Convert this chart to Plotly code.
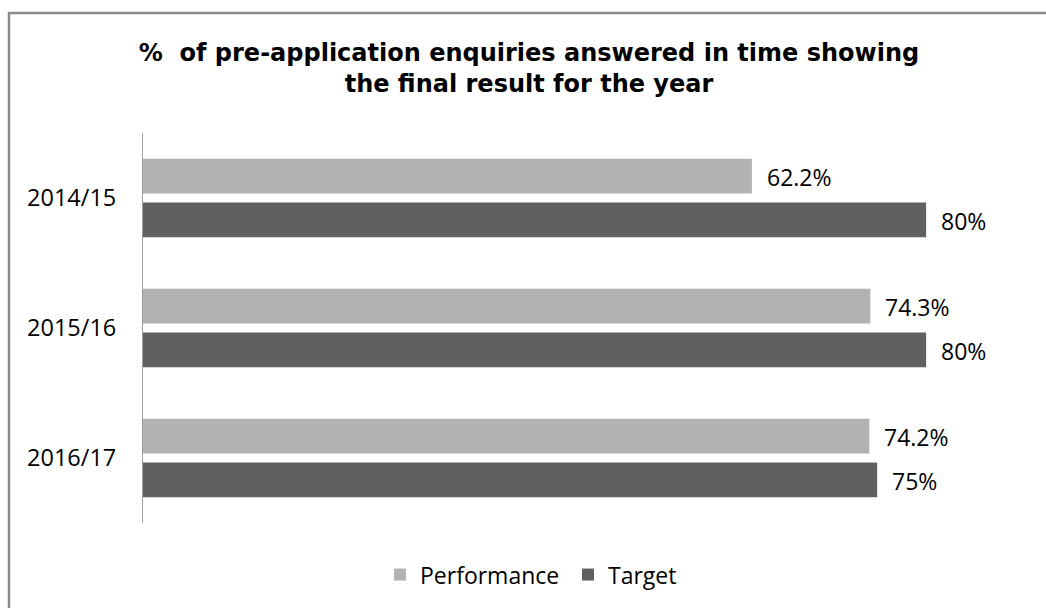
import plotly.graph_objects as go

categories = ["2014/15", "2015/16", "2016/17"]
performance = [62.2, 74.3, 74.2]
target = [80, 80, 75]
perf_labels = ["62.2%", "74.3%", "74.2%"]
target_labels = ["80%", "80%", "75%"]

PERF_COLOR = "#b2b2b2"
TARGET_COLOR = "#606060"
LABEL_FONT = dict(family="Open Sans", size=23, color="#000000")

W, H = 1046, 608
L, R, T, B = 143, 22, 133, 82
pw = W - L - R
ph = H - T - B

def px_to_paper_x(px):
    return (px - L) / pw

def px_to_paper_y(py):
    return (H - B - py) / ph

fig = go.Figure()
fig.add_trace(go.Bar(
    y=categories, x=performance, orientation="h", name="Performance",
    marker=dict(color=PERF_COLOR, line=dict(width=0)), hoverinfo="skip",
))
fig.add_trace(go.Bar(
    y=categories, x=target, orientation="h", name="Target",
    marker=dict(color=TARGET_COLOR, line=dict(width=0)), hoverinfo="skip",
))

annotations = []
for cat, v, lab in zip(categories, performance, perf_labels):
    annotations.append(dict(x=v, y=cat, text=lab, xref="x", yref="y", showarrow=False,
                            xanchor="left", yanchor="middle", xshift=13, yshift=21,
                            font=LABEL_FONT))
for cat, v, lab in zip(categories, target, target_labels):
    annotations.append(dict(x=v, y=cat, text=lab, xref="x", yref="y", showarrow=False,
                            xanchor="left", yanchor="middle", xshift=13, yshift=-23,
                            font=LABEL_FONT))

shapes = [
    dict(type="path", xref="paper", yref="paper",
         path=f"M {px_to_paper_x(9)} {px_to_paper_y(640)} L {px_to_paper_x(9)} {px_to_paper_y(12)} L {px_to_paper_x(1060)} {px_to_paper_y(12)}",
         line=dict(color="#8a8a8a", width=2.5)),
]

fig.update_layout(
    width=W, height=H,
    margin=dict(l=L, r=R, t=T, b=B, pad=0),
    paper_bgcolor="white", plot_bgcolor="white",
    barmode="group", bargap=0.328, bargroupgap=0.205,
    title=dict(
        text="%  of pre-application enquiries answered in time showing<br>the final result for the year",
        font=dict(family="DejaVu Sans", size=24, color="#000000", weight="bold"),
        x=529 / W, xanchor="center", xref="container",
        y=1 - 61 / H, yanchor="top", yref="container",
    ),
    xaxis=dict(range=[0, 90], visible=False, showgrid=False, zeroline=False, fixedrange=True),
    yaxis=dict(autorange="reversed", showline=True, linecolor="#a0a0a0", linewidth=1,
               ticks="", showgrid=False, zeroline=False, ticklabelstandoff=21,
               tickfont=dict(family="Open Sans", size=23.5, color="#000000")),
    legend=dict(orientation="h", x=px_to_paper_x(380), xanchor="left",
                y=px_to_paper_y(578), yanchor="middle", font=LABEL_FONT,
                itemwidth=30, entrywidth=143, entrywidthmode="pixels",
                bgcolor="rgba(0,0,0,0)"),
    annotations=annotations,
    shapes=shapes,
    showlegend=True,
)

fig.write_html("out.html")
